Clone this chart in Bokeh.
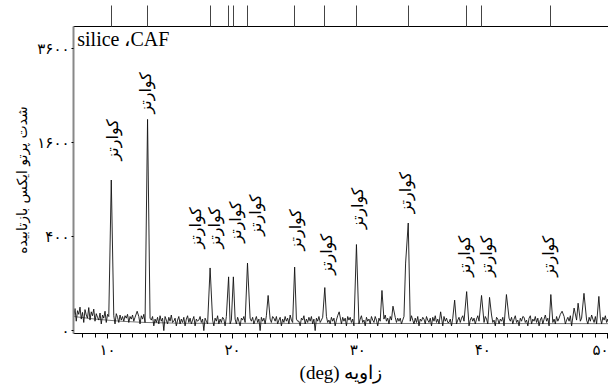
import numpy as np
from bokeh.plotting import figure
from bokeh.models import FixedTicker, LinearAxis, Label, Range1d
from bokeh.core.properties import value
from bokeh.embed import file_html
from bokeh.resources import INLINE

# ---------------- data ----------------
scan_start = 7.3
scan_step = 0.1
noise_counts = [
    9, 22, 4, 18, 12, 25, 6, 15, 3, 20, 11, 7, 24, 5, 16, 10, 21, 4, 13, 8,
    5, 14, 2, 11, 7, 17, 3, 12, 9, 4, 15, 6, 10, 2, 13, 8, 3, 11, 5, 9,
    4, 10, 7, 12, 3, 9, 6, 11, 4, 8, 13, 5, 9, 2, 10, 6, 12, 3, 8, 5,
    2, 7, 5, 9, 1, 6, 3, 8, 2, 10, 4, 7, 0, 9, 5, 2, 8, 4, 11, 3,
    4, 7, 1, 5, 9, 2, 6, 3, 8, 1, 6, 10, 3, 7, 2, 5, 9, 1, 6, 4,
    5, 9, 3, 6, 0, 7, 4, 2, 8, 3, 9, 5, 1, 7, 4, 10, 2, 6, 3, 8,
    6, 1, 9, 4, 7, 2, 5, 10, 3, 6, 2, 8, 4, 1, 7, 5, 9, 3, 6, 2,
    1, 7, 4, 8, 2, 5, 9, 3, 6, 0, 8, 4, 7, 2, 10, 5, 1, 6, 3, 9,
    7, 4, 9, 2, 5, 8, 1, 6, 3, 9, 4, 7, 2, 11, 5, 3, 8, 1, 6, 4,
    4, 1, 7, 5, 10, 2, 6, 3, 8, 4, 9, 2, 6, 0, 7, 4, 9, 3, 5, 8,
    1, 6, 9, 3, 5, 2, 8, 4, 7, 1, 5, 10, 3, 6, 2, 8, 4, 7, 1, 9,
    5, 8, 3, 6, 1, 9, 4, 7, 2, 6, 10, 3, 5, 1, 8, 4, 6, 2, 9, 5,
    3, 9, 5, 1, 7, 4, 8, 2, 6, 11, 4, 7, 2, 9, 5, 1, 6, 8, 3, 7,
    4, 7, 2, 5, 9, 3, 6, 1, 8, 4, 10, 5, 2, 7, 3, 9, 1, 6, 4, 8,
    6, 2, 9, 5, 3, 7, 1, 8, 4, 10, 3, 6, 2, 8, 5, 1, 9, 4, 7, 3,
    3, 6, 1, 7, 4, 9, 2, 5, 8, 3, 7, 10, 4, 2, 6, 9, 1, 5, 8, 4,
    7, 2, 6, 10, 4, 1, 8, 5, 3, 9, 6, 2, 7, 4, 11, 3, 5, 1, 8, 6,
    2, 6, 4, 8, 1, 5, 9, 3, 7, 4, 8, 2, 6, 10, 3, 5, 1, 7, 4, 9,
    8, 3, 5, 1, 7, 10, 2, 6, 4, 9, 3, 7, 1, 5, 8, 2, 6, 11, 4, 7,
    1, 5, 8, 3, 6, 2, 9, 4, 7, 12, 3, 6, 9, 2, 5, 8, 4, 10, 1, 7,
    3, 8, 5, 2, 9, 4, 7, 1, 6, 10, 5, 2, 8, 4, 11, 6, 3, 9, 2, 7,
    4, 7, 2, 8, 5, 10, 3, 6, 1, 9,
]
peak_deg = [10.30, 12.37, 13.20, 18.20, 19.68, 20.06, 21.19, 22.84, 24.96, 27.37,
            28.52, 29.90, 31.94, 32.82, 33.83, 34.04, 36.63, 37.75, 38.71, 39.90,
            40.54, 41.89, 45.44, 46.34, 47.30, 47.62, 48.09, 49.28]
peak_counts = [1029, 17, 2024, 178, 131, 131, 207, 56, 183, 84,
               16, 336, 73, 27, 207, 525, 16, 42, 69, 56,
               50, 59, 59, 17, 23, 34, 63, 53]
bg_deg = [7.3, 9.0, 11.0, 13.0, 16.0, 50.2]
bg_counts = [9, 6, 4, 3, 2.4, 2.2]

quartz_deg = [10.30, 13.20, 18.20, 19.68, 20.06, 21.19, 24.96, 27.37, 29.90,
              34.04, 38.71, 39.90, 45.44]
label_deg = [10.43, 13.01, 17.00, 18.58, 20.25, 21.84, 25.00, 27.49, 29.95,
             33.85, 38.54, 40.29, 45.22]
label_counts = [1312, 2137, 306, 306, 351, 408, 292, 141, 469, 625, 131, 131, 131]
label_text = "کوارتز"

x_tick_values = [10, 20, 30, 40, 50]
x_tick_labels = ["۱۰", "۲۰", "۳۰", "۴۰", "۵۰"]
y_tick_values = [0, 400, 1600, 3600]
y_tick_labels = ["۰", "۴۰۰", "۱۶۰۰", "۳۶۰۰"]
title_text = "silice ،CAF"
x_label = "(deg) زاویه"
y_label = "شدت پرتو ایکس بازتابیده"

# ---------------- build pattern ----------------
scan_deg = scan_start + scan_step * np.arange(len(noise_counts))
pk = np.array(peak_deg)
keep = np.array([np.min(np.abs(pk - d)) > 0.11 for d in scan_deg])
all_deg = np.concatenate([scan_deg[keep], pk])
all_counts = np.concatenate([np.array(noise_counts, float)[keep], np.array(peak_counts, float)])
order = np.argsort(all_deg)
xs = all_deg[order]
ys = np.sqrt(all_counts[order])

x0, x1 = 7.28, 50.05
y0, y1 = -0.62, 64.78

p = figure(width=608, height=385, x_range=Range1d(x0, x1), y_range=Range1d(y0, y1),
           output_backend="svg", toolbar_location=None,
           min_border_left=73, min_border_right=0, min_border_top=26, min_border_bottom=45)
p.outline_line_color = None
p.xgrid.visible = False
p.ygrid.visible = False
p.background_fill_color = "white"
p.border_fill_color = "white"

p.line(bg_deg, np.sqrt(bg_counts), line_color="#777777", line_width=1)
p.line(xs, ys, line_color="#111111", line_width=0.9)

p.text(x=label_deg, y=np.sqrt(label_counts), text=[label_text] * len(label_deg),
       angle=np.pi / 2, text_align="left", text_baseline="middle",
       text_font=value("DejaVu Sans"), text_font_size="16px", text_color="black")

p.add_layout(Label(x=x0 + 0.3, y=y1 - 0.3, text=title_text, text_font="Liberation Serif",
                   text_font_size="20px", text_baseline="top", text_align="left",
                   text_color="black"))

# bottom axis
xa = p.xaxis[0]
xa.ticker = FixedTicker(ticks=x_tick_values, minor_ticks=list(range(8, 51)))
xa.major_label_overrides = {v: t for v, t in zip(x_tick_values, x_tick_labels)}
xa.axis_line_color = "black"
xa.major_tick_out = 5
xa.major_tick_in = 0
xa.minor_tick_out = 4
xa.minor_tick_in = 0
xa.major_label_standoff = 2
xa.major_label_text_font = "DejaVu Sans"
xa.major_label_text_font_size = "15px"
xa.major_label_text_color = "black"
xa.axis_label = x_label
xa.axis_label_text_font = "Liberation Serif"
xa.axis_label_text_font_style = "normal"
xa.axis_label_text_font_size = "19px"
xa.axis_label_text_color = "black"
xa.axis_label_standoff = 0

# left axis
ya = p.yaxis[0]
ya.ticker = FixedTicker(ticks=[float(np.sqrt(v)) for v in y_tick_values], minor_ticks=[])
ya.major_label_overrides = {int(round(np.sqrt(v))): t for v, t in zip(y_tick_values, y_tick_labels)}
ya.axis_line_color = "#888888"
ya.axis_line_width = 2
ya.major_tick_out = 2
ya.major_tick_in = 0
ya.major_tick_line_color = "black"
ya.major_label_standoff = 2
ya.major_label_text_font = "DejaVu Sans"
ya.major_label_text_font_size = "15px"
ya.major_label_text_color = "black"
ya.axis_label = y_label
ya.axis_label_text_font = "DejaVu Sans"
ya.axis_label_text_font_style = "normal"
ya.axis_label_text_font_size = "14px"
ya.axis_label_text_color = "black"
ya.axis_label_standoff = 4

# top reference ticks (quartz line positions)
ta = LinearAxis(ticker=FixedTicker(ticks=quartz_deg, minor_ticks=[]),
                major_tick_out=21, major_tick_in=0, major_tick_line_color="#444444",
                axis_line_color="black", major_label_standoff=0,
                major_label_text_font_size="1px",
                major_label_overrides={v: "" for v in quartz_deg})
p.add_layout(ta, "above")

open("out.html", "w").write(file_html(p, INLINE))
